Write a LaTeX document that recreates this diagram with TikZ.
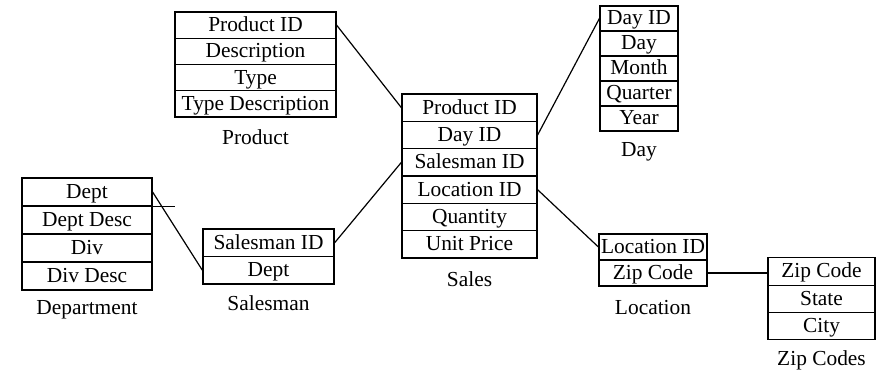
\documentclass[tikz,border=0pt]{standalone}
\usepackage{fontspec}
\setmainfont{Liberation Serif}
\begin{document}
\begin{tikzpicture}[x=1pt, y=-1pt, line width=1.2pt,
  field/.style={draw, inner sep=0pt, text height=13pt, text depth=0pt, font=\fontsize{21.4}{24}\selectfont},
  caption/.style={inner sep=0pt, font=\fontsize{21.4}{24}\selectfont}]
\useasboundingbox (0,0) rectangle (878,371);

% Product table
\node[field, minimum width=161pt, minimum height=26.25pt] (prod1) at (255.5, 25.1) {Product ID};
\node[field, minimum width=161pt, minimum height=26.25pt] (prod2) at (255.5, 51.4) {Description};
\node[field, minimum width=161pt, minimum height=26.25pt] (prod3) at (255.5, 77.6) {Type};
\node[field, minimum width=161pt, minimum height=26.25pt] (prod4) at (255.5, 103.9) {Type Description};
\node[caption] (prodlabel) at (255.5, 137) {Product};

% Sales table
\node[field, minimum width=135pt, minimum height=27.33pt] (sales1) at (469.5, 107.7) {Product ID};
\node[field, minimum width=135pt, minimum height=27.33pt] (sales2) at (469.5, 135.0) {Day ID};
\node[field, minimum width=135pt, minimum height=27.33pt] (sales3) at (469.5, 162.3) {Salesman ID};
\node[field, minimum width=135pt, minimum height=27.33pt] (sales4) at (469.5, 189.7) {Location ID};
\node[field, minimum width=135pt, minimum height=27.33pt] (sales5) at (469.5, 217.0) {Quantity};
\node[field, minimum width=135pt, minimum height=27.33pt] (sales6) at (469.5, 244.3) {Unit Price};
\node[caption] (saleslabel) at (469.5, 279) {Sales};

% Day table
\node[field, minimum width=78pt, minimum height=25pt] (day1) at (639, 18.5) {Day ID};
\node[field, minimum width=78pt, minimum height=25pt] (day2) at (639, 43.5) {Day};
\node[field, minimum width=78pt, minimum height=25pt] (day3) at (639, 68.5) {Month};
\node[field, minimum width=78pt, minimum height=25pt] (day4) at (639, 93.5) {Quarter};
\node[field, minimum width=78pt, minimum height=25pt] (day5) at (639, 118.5) {Year};
\node[caption] (daylabel) at (639, 152) {Day};

% Department table
\node[field, minimum width=130pt, minimum height=28pt] (dep1) at (87, 192) {Dept};
\node[field, minimum width=130pt, minimum height=28pt] (dep2) at (87, 220) {Dept Desc};
\node[field, minimum width=130pt, minimum height=28pt] (dep3) at (87, 248) {Div};
\node[field, minimum width=130pt, minimum height=28pt] (dep4) at (87, 276) {Div Desc};
\node[caption] (deplabel) at (87, 310) {Department};
\draw (dep1.south east) -- +(22,0);

% Salesman table
\node[field, minimum width=131pt, minimum height=27.5pt] (sm1) at (268.5, 242.8) {Salesman ID};
\node[field, minimum width=131pt, minimum height=27.5pt] (sm2) at (268.5, 270.3) {Dept};
\node[caption] (smlabel) at (268.5, 303) {Salesman};

% Location table
\node[field, minimum width=108pt, minimum height=26pt] (loc1) at (653, 247) {Location ID};
\node[field, minimum width=108pt, minimum height=26pt] (loc2) at (653, 273) {Zip Code};
\node[caption] (loclabel) at (653, 308) {Location};

% Zip Codes table
\node[field, minimum width=107pt, minimum height=27.3pt] (zip1) at (821.5, 271.5) {Zip Code};
\node[field, minimum width=107pt, minimum height=27.3pt] (zip2) at (821.5, 298.8) {State};
\node[field, minimum width=107pt, minimum height=27.3pt] (zip3) at (821.5, 326.1) {City};
\node[caption] (ziplabel) at (821.5, 360) {Zip Codes};

% Links between the tables
\draw (prod1.east) -- (sales1.west);
\draw (sales2.east) -- (day1.west);
\draw (sales3.west) -- (sm1.east);
\draw (sales4.east) -- (loc1.west);
\draw (dep1.east) -- (sm2.west);
\draw (loc2.east) -- (loc2.east -| zip1.west);
\end{tikzpicture}
\end{document}
